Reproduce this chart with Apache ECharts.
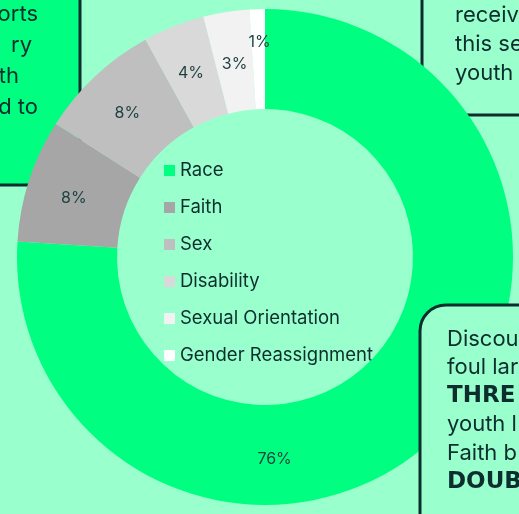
<!DOCTYPE html>
<html>
<head>
<meta charset="utf-8">
<title>Discrimination by type</title>
<script src="https://cdn.jsdelivr.net/npm/echarts@6/dist/echarts.min.js"></script>
<style>
	html, body { margin: 0; padding: 0; background: #99ffcc; }
	#chartView { width: 519px; height: 514px; }
</style>
</head>
<body>
<div id="chartView"></div>
<script>
var categories = ['Race', 'Faith', 'Sex', 'Disability', 'Sexual Orientation', 'Gender Reassignment'];
var shares = [76, 8, 8, 4, 3, 1];
var sliceColors = ['#00ff80', '#a6a6a6', '#bfbfbf', '#d9d9d9', '#f2f2f2', '#ffffff'];

var leftBoxLines = ['orts', 'ry', 'th', 'd to'];
var topRightLines = ['receiv', 'this se', 'youth'];
var bottomRightLines = [
	{ text: 'Discou', bold: false },
	{ text: 'foul lar', bold: false },
	{ text: 'THRE', bold: true },
	{ text: 'youth l', bold: false },
	{ text: 'Faith b', bold: false },
	{ text: 'DOUB', bold: true }
];

var ink = '#0d2e2e';
var labelInk = '#1c3f3f';
var fontName = 'Inter, "Noto Sans", sans-serif';

// label nudges: the big slice label sits at the bottom, the two thin ones are pushed apart
var labelNudge = {
	'Race': [-128, 56],
	'Sexual Orientation': [1, 6],
	'Gender Reassignment': [1, -14]
};

var myChart = echarts.init(document.getElementById('chartView'));

var pieData = [];
for (var i = 0; i < categories.length; i++) {
	var item = {
		name: categories[i],
		value: shares[i],
		itemStyle: { color: sliceColors[i] },
		label: { offset: labelNudge[categories[i]] || [0, 3] }
	};
	pieData.push(item);
}

var boxes = [];
// top-left green box, under the donut
boxes.push({
	type: 'rect', z: 0,
	shape: { x: -40, y: -40, width: 120, height: 225, r: [0, 0, 6, 0] },
	style: { fill: '#00ff80', stroke: ink, lineWidth: 3 }
});
var rightEdges = [38, 32, 19, 38];
for (var i = 0; i < leftBoxLines.length; i++) {
	boxes.push({
		type: 'text', z: 1, x: rightEdges[i], y: 14 + i * 31,
		style: { text: leftBoxLines[i], fill: ink, font: '22px ' + fontName, align: 'right', verticalAlign: 'middle' }
	});
}
// top-right mint box, under the donut
boxes.push({
	type: 'rect', z: 0,
	shape: { x: 422, y: -40, width: 160, height: 155, r: [0, 0, 0, 18] },
	style: { fill: '#99ffcc', stroke: ink, lineWidth: 3 }
});
for (var i = 0; i < topRightLines.length; i++) {
	boxes.push({
		type: 'text', z: 1, x: 455, y: 15 + i * 29,
		style: { text: topRightLines[i], fill: ink, font: '22px ' + fontName, verticalAlign: 'middle' }
	});
}
// bottom-right box, over the donut
boxes.push({
	type: 'rect', z: 100,
	shape: { x: 420, y: 305, width: 160, height: 250, r: 26 },
	style: { fill: '#99ffcc', stroke: ink, lineWidth: 3 }
});
for (var i = 0; i < bottomRightLines.length; i++) {
	var ln = bottomRightLines[i];
	boxes.push({
		type: 'text', z: 101, x: 447, y: 339 + i * 28.6,
		style: {
			text: ln.text, fill: ink, verticalAlign: 'middle',
			font: ln.bold ? 'bold 23px "DejaVu Sans", sans-serif' : '22px ' + fontName
		}
	});
}

var option = {
	backgroundColor: '#99ffcc',
	animation: false,
	legend: {
		orient: 'vertical',
		left: 164,
		top: 160,
		padding: 0,
		itemWidth: 11,
		itemHeight: 11,
		itemGap: 16,
		icon: 'rect',
		selectedMode: false,
		textStyle: { color: ink, fontSize: 18.5, fontFamily: fontName, lineHeight: 21, padding: [0, 0, 0, 0] },
		data: categories
	},
	graphic: boxes,
	series: [{
		name: 'Type',
		type: 'pie',
		center: [265, 257],
		radius: [148, 248],
		startAngle: 90,
		clockwise: true,
		z: 5,
		label: {
			show: true,
			position: 'inside',
			formatter: '{c}%',
			color: labelInk,
			fontSize: 16,
			fontFamily: fontName
		},
		labelLine: { show: false },
		emphasis: { disabled: true },
		itemStyle: { borderWidth: 0 },
		data: pieData
	}]
};

myChart.setOption(option);
</script>
</body>
</html>
